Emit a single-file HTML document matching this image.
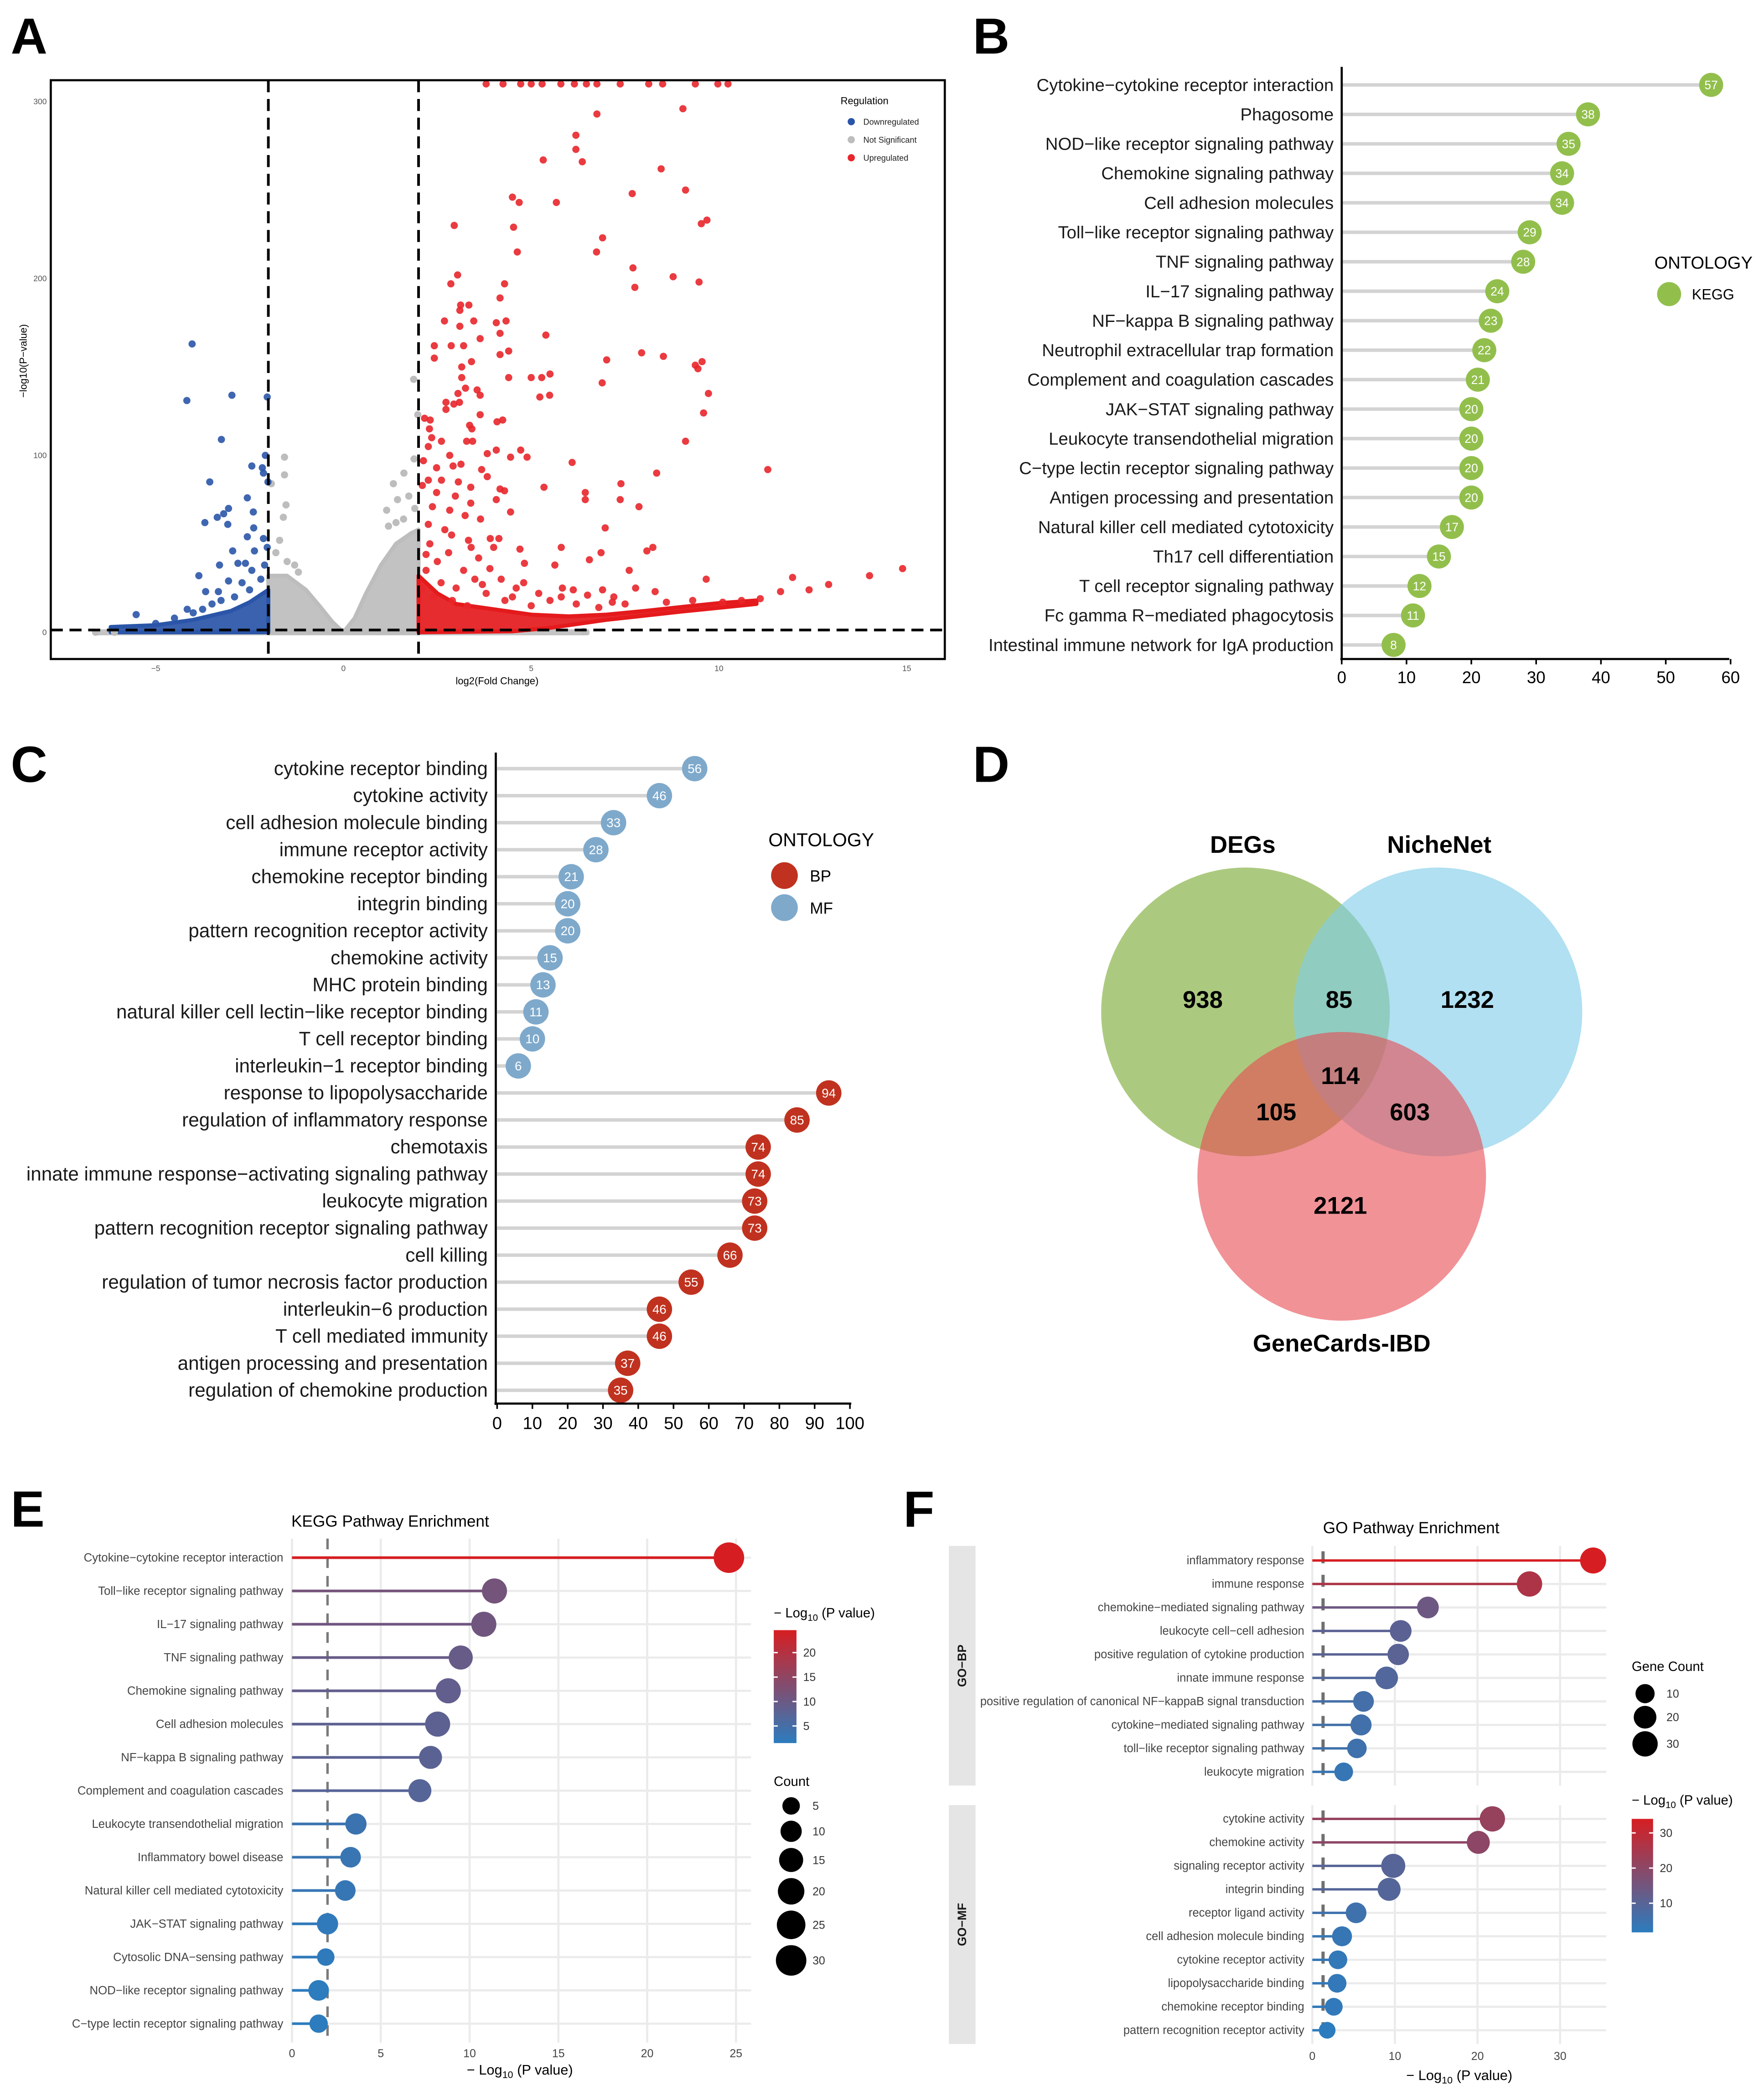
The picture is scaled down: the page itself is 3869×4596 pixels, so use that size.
<!DOCTYPE html>
<html><head><meta charset="utf-8"><title>Enrichment figure</title>
<style>
html,body{margin:0;padding:0;background:#fff;}
svg{display:block;}
text{font-family:"Liberation Sans",Arial,sans-serif;}
</style></head>
<body>
<svg id="fig" xmlns="http://www.w3.org/2000/svg" width="3869" height="4596" viewBox="0 0 1320 1568">
<rect x="0" y="0" width="1320" height="1568" fill="#fff"/>
<g font-weight="bold" font-size="38" fill="#000">
<text x="8" y="40">A</text>
<text x="728" y="40">B</text>
<text x="8" y="585">C</text>
<text x="728" y="585">D</text>
<text x="8" y="1142">E</text>
<text x="676" y="1142">F</text>
</g>
<g id="venn">
<circle cx="932" cy="757" r="108" fill="#7fae3a" fill-opacity="0.65"/>
<circle cx="1076" cy="757" r="108" fill="#7fcde8" fill-opacity="0.62"/>
<circle cx="1004" cy="880" r="108" fill="#e84a52" fill-opacity="0.6"/>
<g font-weight="bold" font-size="18" text-anchor="middle" fill="#000">
<text x="930" y="638">DEGs</text>
<text x="1077" y="638">NicheNet</text>
<text x="1004" y="1011">GeneCards-IBD</text>
<text x="900" y="754">938</text>
<text x="1002" y="754">85</text>
<text x="1098" y="754">1232</text>
<text x="1003" y="811">114</text>
<text x="955" y="838">105</text>
<text x="1055" y="838">603</text>
<text x="1003" y="908">2121</text>
</g>
</g>
</svg>
<script>
// ---------- Panel A data (log2FC, -log10 p) ----------
const upPoints=[[6.75,293],[9.04,296],[6.19,281],[6.19,273],[6.36,266],[5.32,267],[8.46,262],[7.69,248],[9.11,250],[4.5,246],[4.68,243],[5.67,243],[2.95,230],[4.53,229],[9.53,231],[9.68,233],[6.9,223],[4.63,215],[6.74,215],[7.71,206],[8.78,201],[3.04,202],[2.86,197],[4.29,197],[9.47,198],[7.76,195],[4.17,189],[3.12,185],[3.34,185],[3.1,182],[2.69,176],[3.47,176],[3.1,173],[4.07,175],[4.33,176],[3.64,166],[4.17,169],[5.39,168],[2.42,162],[2.87,162],[3.2,162],[4.4,159],[4.17,157],[2.42,155],[3.41,153],[7.94,158],[8.52,156],[7.01,154],[9.55,153],[9.37,151],[9.44,149],[3.15,150],[3.15,144],[4.4,144],[5.0,144],[5.28,144],[5.5,146],[6.89,141],[3.25,138],[3.05,135],[3.56,137],[3.64,134],[5.23,133],[5.49,134],[9.72,135],[2.73,130],[3.09,130],[2.94,129],[2.73,126],[9.59,124],[3.64,123],[2.31,120],[2.16,121],[4.09,119],[4.24,120],[3.36,117],[3.42,115],[2.29,115],[2.35,110],[2.61,108],[3.28,108],[3.44,108],[9.11,108],[2.26,105],[4.07,103],[4.72,103],[4.89,99],[3.83,101],[4.45,99],[2.13,97],[2.83,100],[6.09,96],[2.48,93],[2.92,94],[3.13,95],[3.68,92],[3.83,88],[11.3,92],[8.34,90],[2.26,86],[2.61,86],[3.06,85],[2.1,83],[3.39,82],[5.34,82],[7.39,84],[4.17,81],[4.29,80],[6.44,79],[6.44,75],[7.37,75],[7.87,71],[2.48,79],[2.98,77],[3.39,73],[4.07,75],[4.45,68],[2.37,71],[2.83,69],[3.24,66],[3.65,64],[6.97,59],[2.26,61],[2.88,55],[3.91,53],[4.14,53],[3.33,52],[5.8,48],[8.24,48],[8.08,46],[6.86,45],[4.7,47],[6.55,41],[4.82,39],[5.63,38],[7.61,35],[9.66,30],[11.96,31],[12.92,27],[14.01,32],[14.89,36],[5.83,25],[6.12,24],[6.9,24],[7.78,25],[8.3,23],[11.64,23],[7.16,17],[3.8,310],[4.25,310],[4.72,310],[5.0,310],[5.29,310],[5.79,310],[6.15,310],[6.47,310],[6.75,310],[7.37,310],[8.13,310],[8.5,310],[9.37,310],[9.97,310],[10.24,310],[9.3,18],[10.1,17],[10.6,18],[11.1,19],[12.4,24],[2.3,50],[2.5,40],[2.8,45],[3.2,35],[3.5,30],[2.2,35],[2.6,28],[3.0,25],[3.8,22],[4.2,30],[4.5,20],[5,15],[2.4,20],[2.9,18],[3.3,15],[2.1,25],[4.8,28],[5.2,22],[3.6,42],[4.0,48],[2.7,58],[3.4,48],[3.9,36],[4.6,25],[5.5,18],[6.2,16],[6.8,14],[7.5,16],[8.6,17],[2.2,44],[3.7,27],[4.3,18],[5.8,20],[6.5,21],[7.2,20]];
const downPoints=[[-4.03,163],[-4.17,131],[-2.97,134],[-2.03,133],[-3.25,109],[-2.08,100],[-2.44,94],[-2.16,93],[-2.13,90],[-2.01,85],[-3.56,85],[-2.56,76],[-3.06,70],[-3.19,67],[-3.36,65],[-2.4,68],[-3.69,62],[-3.08,61],[-2.39,59],[-2.56,54],[-2.13,53],[-2.03,48],[-2.37,46],[-2.95,46],[-2.61,39],[-2.81,39],[-3.3,38],[-2.44,35],[-3.85,32],[-3.06,29],[-3.67,23],[-3.33,23],[-4.16,13],[-5.52,10],[-3.75,13],[-3.26,18],[-2.7,28],[-2.9,20],[-4.5,8],[-5.0,5],[-2.2,30],[-2.5,24],[-3.5,16],[-4.0,11],[-2.1,38]];
const nsPoints=[[-1.57,99],[-1.57,89],[-1.92,84],[-1.53,72],[-1.6,65],[1.87,143],[1.98,123],[1.88,98],[1.61,90],[1.33,84],[1.15,69],[1.74,77],[1.44,75],[-6.6,0],[-6.1,0],[6.4,0.5],[-1.8,45],[-1.5,40],[-1.3,38],[1.6,64],[1.4,62],[1.9,70],[1.2,60],[-1.7,52],[-1.2,34]];
const upBand=[[2,0],[2,32],[2.5,22],[3,16],[4,13],[5,10],[6,9],[7,10],[8,12],[9.1,14.5],[10,16.5],[11,18],[11,16],[9,11.7],[7,7],[5.5,2.5],[4.5,0.5]];
const downBand=[[-6.2,0],[-6.2,3],[-5,4],[-4,7],[-3,12],[-2.5,17],[-2,24],[-2,0]];
const nsBandLeft=[[-2,0],[-2,32],[-1.5,32],[-1,24],[-0.6,14],[-0.3,6],[0,0]];
const nsBandRight=[[0,0],[0.3,8],[0.6,22],[1,38],[1.4,50],[1.8,56],[2,58],[2,0]];
const nsBandBase=[[-6.6,-0.6],[6.5,-0.6],[6.5,0.6],[-6.6,0.6]];
const volcanoXTicks=[-5,0,5,10,15];
const volcanoYTicks=[0,100,200,300];

// ---------- Panel B data ----------
const keggTerms=["Cytokine\u2212cytokine receptor interaction","Phagosome","NOD\u2212like receptor signaling pathway","Chemokine signaling pathway","Cell adhesion molecules","Toll\u2212like receptor signaling pathway","TNF signaling pathway","IL\u221217 signaling pathway","NF\u2212kappa B signaling pathway","Neutrophil extracellular trap formation","Complement and coagulation cascades","JAK\u2212STAT signaling pathway","Leukocyte transendothelial migration","C\u2212type lectin receptor signaling pathway","Antigen processing and presentation","Natural killer cell mediated cytotoxicity","Th17 cell differentiation","T cell receptor signaling pathway","Fc gamma R\u2212mediated phagocytosis","Intestinal immune network for IgA production"];
const keggCounts=[57,38,35,34,34,29,28,24,23,22,21,20,20,20,20,17,15,12,11,8];
const keggTicks=[0,10,20,30,40,50,60];

// ---------- Panel C data ----------
const goTerms=["cytokine receptor binding","cytokine activity","cell adhesion molecule binding","immune receptor activity","chemokine receptor binding","integrin binding","pattern recognition receptor activity","chemokine activity","MHC protein binding","natural killer cell lectin\u2212like receptor binding","T cell receptor binding","interleukin\u22121 receptor binding","response to lipopolysaccharide","regulation of inflammatory response","chemotaxis","innate immune response\u2212activating signaling pathway","leukocyte migration","pattern recognition receptor signaling pathway","cell killing","regulation of tumor necrosis factor production","interleukin\u22126 production","T cell mediated immunity","antigen processing and presentation","regulation of chemokine production"];
const goCounts=[56,46,33,28,21,20,20,15,13,11,10,6,94,85,74,74,73,73,66,55,46,46,37,35];
const goOntology=["MF","MF","MF","MF","MF","MF","MF","MF","MF","MF","MF","MF","BP","BP","BP","BP","BP","BP","BP","BP","BP","BP","BP","BP"];
const goTicks=[0,10,20,30,40,50,60,70,80,90,100];

// ---------- Panel E data ----------
const eTerms=["Cytokine\u2212cytokine receptor interaction","Toll\u2212like receptor signaling pathway","IL\u221217 signaling pathway","TNF signaling pathway","Chemokine signaling pathway","Cell adhesion molecules","NF\u2212kappa B signaling pathway","Complement and coagulation cascades","Leukocyte transendothelial migration","Inflammatory bowel disease","Natural killer cell mediated cytotoxicity","JAK\u2212STAT signaling pathway","Cytosolic DNA\u2212sensing pathway","NOD\u2212like receptor signaling pathway","C\u2212type lectin receptor signaling pathway"];
const eLogP=[24.6,11.4,10.8,9.5,8.8,8.2,7.8,7.2,3.6,3.3,3.0,2.0,1.9,1.5,1.5];
const eCounts=[30,17,17,15,17,17,13,13,10,9,9,10,5,9,6];
const eXTicks=[0,5,10,15,20,25];
const eColorTicks=[5,10,15,20];
const eCountLegend=[5,10,15,20,25,30];

// ---------- Panel F data ----------
const fBpTerms=["inflammatory response","immune response","chemokine\u2212mediated signaling pathway","leukocyte cell\u2212cell adhesion","positive regulation of cytokine production","innate immune response","positive regulation of canonical NF\u2212kappaB signal transduction","cytokine\u2212mediated signaling pathway","toll\u2212like receptor signaling pathway","leukocyte migration"];
const fBpLogP=[34,26.3,14,10.7,10.4,9,6.2,5.9,5.4,3.8];
const fBpCounts=[33,30,17,17,16,20,14,15,11,9];
const fMfTerms=["cytokine activity","chemokine activity","signaling receptor activity","integrin binding","receptor ligand activity","cell adhesion molecule binding","cytokine receptor activity","lipopolysaccharide binding","chemokine receptor binding","pattern recognition receptor activity"];
const fMfLogP=[21.8,20.1,9.8,9.3,5.3,3.6,3.1,3.0,2.6,1.8];
const fMfCounts=[30,21,25,21,14,12,9,9,7,5];
const fXTicks=[0,10,20,30];
const fColorTicks=[10,20,30];
const fCountLegend=[10,20,30];

const NS='http://www.w3.org/2000/svg';
const svg=document.getElementById('fig');
function mk(tag,attrs,parent){const e=document.createElementNS(NS,tag);for(const k in attrs)e.setAttribute(k,attrs[k]);(parent||svg).appendChild(e);return e;}
function txt(s,attrs,parent){const e=mk('text',attrs,parent);e.textContent=s;return e;}
function pts(arr,fx,fy){return arr.map(p=>fx(p[0]).toFixed(1)+','+fy(p[1]).toFixed(1)).join(' ');}
function lerpColor(t){t=Math.max(0,Math.min(1,t));const a=[44,124,190],b=[214,30,34];return 'rgb('+a.map((v,i)=>Math.round(v+(b[i]-v)*t)).join(',')+')';}
function logTitle(x,y,size,anchor,parent){const t=mk('text',{x:x,y:y,'font-size':size,'text-anchor':anchor,fill:'#000'},parent);t.appendChild(document.createTextNode('\u2212 Log'));const s=document.createElementNS(NS,'tspan');s.setAttribute('font-size',size*0.7);s.setAttribute('dy',size*0.25);s.textContent='10';t.appendChild(s);const r=document.createElementNS(NS,'tspan');r.setAttribute('dy',-size*0.25);r.textContent=' (P value)';t.appendChild(r);return t;}

// ================= Panel A =================
(function(){
const g=mk('g',{});


const X=v=>257+v*28.1, Y=v=>473-v*1.3233;
const clip=mk('clipPath',{id:'clipA'},g);mk('rect',{x:38,y:60,width:669,height:433},clip);
const pg=mk('g',{'clip-path':'url(#clipA)'},g);
const bands=[[nsBandBase,'#c4c4c4','ns-band-base'],[nsBandLeft,'#bdbdbd','ns-band-left'],[nsBandRight,'#bdbdbd','ns-band-right'],[upBand,'#e41a1c','up-band'],[downBand,'#2a55a8','down-band']];
bands.forEach(b=>{const p=mk('polygon',{points:pts(b[0],X,Y),fill:b[1],'fill-opacity':0.92,stroke:b[1],'stroke-width':3,'stroke-linejoin':'round'},pg);

});
nsPoints.forEach(d=>{const c=mk('circle',{cx:X(d[0]),cy:Y(d[1]),r:2.7,fill:'#bdbdbd'},pg);

});
downPoints.forEach(d=>{const c=mk('circle',{cx:X(d[0]),cy:Y(d[1]),r:2.7,fill:'#2a55a8','fill-opacity':0.9},pg);

});
upPoints.forEach(d=>{const c=mk('circle',{cx:X(d[0]),cy:Y(d[1]),r:2.7,fill:'#e8262b','fill-opacity':0.9},pg);

});
[-2,2].forEach(v=>{const l=mk('line',{x1:X(v),x2:X(v),y1:60,y2:493,stroke:'#000','stroke-width':2,'stroke-dasharray':'9 5'},g);

});
const hl=mk('line',{x1:38,x2:707,y1:Y(1.3),y2:Y(1.3),stroke:'#000','stroke-width':2,'stroke-dasharray':'9 5'},g);


const fr=mk('rect',{x:38,y:60,width:669,height:433,fill:'none',stroke:'#000','stroke-width':1.6},g);


volcanoXTicks.forEach(v=>{const t=txt(String(v).replace('-','\u2212'),{x:X(v),y:502,'font-size':6,'text-anchor':'middle',fill:'#555'},g);

});
volcanoYTicks.forEach(v=>{const t=txt(String(v),{x:35,y:Y(v)+2,'font-size':6,'text-anchor':'end',fill:'#555'},g);

});
const xt=txt('log2(Fold Change)',{x:372,y:512,'font-size':7.5,'text-anchor':'middle',fill:'#000'},g);


const yt=txt('\u2212log10(P\u2212value)',{x:0,y:0,'font-size':7.5,'text-anchor':'middle',fill:'#000',transform:'translate(20,270) rotate(-90)'},g);


const lt=txt('Regulation',{x:629,y:78,'font-size':7.5,fill:'#000'},g);


[['Downregulated','#2a55a8'],['Not Significant','#bdbdbd'],['Upregulated','#e8262b']].forEach((e,i)=>{
const c=mk('circle',{cx:637,cy:91+i*13.5,r:2.7,fill:e[1]},g);


const t=txt(e[0],{x:646,y:93.3+i*13.5,'font-size':6.2,fill:'#222'},g);

});
})();

// ================= Panel B =================
(function(){
const g=mk('g',{});


const X=v=>1004+v*4.85, Y=i=>63.5+i*22.05;
keggCounts.forEach((v,i)=>{
const l=mk('line',{x1:1004,x2:X(v),y1:Y(i),y2:Y(i),stroke:'#d3d3d3','stroke-width':2.6},g);


const c=mk('circle',{cx:X(v),cy:Y(i),r:9,fill:'#92bf4c'},g);


const n=txt(String(v),{x:X(v),y:Y(i)+3.2,'font-size':9,'text-anchor':'middle',fill:'#fff'},g);


const t=txt(keggTerms[i],{x:998,y:Y(i)+4.5,'font-size':13.1,'text-anchor':'end',fill:'#1a1a1a'},g);

});
const ya=mk('line',{x1:1004,x2:1004,y1:50,y2:494,stroke:'#000','stroke-width':1.6},g);


const xa=mk('line',{x1:1003,x2:1294,y1:493,y2:493,stroke:'#000','stroke-width':1.6},g);


keggTicks.forEach(v=>{const tk=mk('line',{x1:X(v),x2:X(v),y1:493,y2:497,stroke:'#000','stroke-width':1.2},g);


const t=txt(String(v),{x:X(v),y:511,'font-size':12.5,'text-anchor':'middle',fill:'#000'},g);

});
const lt=txt('ONTOLOGY',{x:1238,y:201,'font-size':13,fill:'#000'},g);


const lc=mk('circle',{cx:1249,cy:220,r:9,fill:'#92bf4c'},g);


const le=txt('KEGG',{x:1266,y:224,'font-size':11,fill:'#000'},g);


})();

// ================= Panel C =================
(function(){
const g=mk('g',{});


const X=v=>372+v*2.64, Y=i=>575+i*20.22;
const col={MF:'#7ea9cb',BP:'#c0321f'};
goCounts.forEach((v,i)=>{
const l=mk('line',{x1:372,x2:X(v),y1:Y(i),y2:Y(i),stroke:'#d3d3d3','stroke-width':2.6},g);


const c=mk('circle',{cx:X(v),cy:Y(i),r:9.5,fill:col[goOntology[i]]},g);


const n=txt(String(v),{x:X(v),y:Y(i)+3.3,'font-size':9.5,'text-anchor':'middle',fill:'#fff'},g);


const t=txt(goTerms[i],{x:365,y:Y(i)+4.8,'font-size':14.4,'text-anchor':'end',fill:'#1a1a1a'},g);

});
const ya=mk('line',{x1:371,x2:371,y1:563,y2:1051,stroke:'#000','stroke-width':1.6},g);


const xa=mk('line',{x1:370,x2:637,y1:1050,y2:1050,stroke:'#000','stroke-width':1.6},g);


goTicks.forEach(v=>{const tk=mk('line',{x1:X(v),x2:X(v),y1:1050,y2:1054,stroke:'#000','stroke-width':1.2},g);


const t=txt(String(v),{x:X(v),y:1069,'font-size':13,'text-anchor':'middle',fill:'#000'},g);

});
const lt=txt('ONTOLOGY',{x:575,y:633,'font-size':14,fill:'#000'},g);


[['BP',655],['MF',679]].forEach(e=>{
const c=mk('circle',{cx:587,cy:e[1],r:10,fill:col[e[0]]},g);


const t=txt(e[0],{x:606,y:e[1]+4.5,'font-size':12,fill:'#000'},g);

});
})();

// ================= Panel E =================
(function(){
const g=mk('g',{});


const X=v=>218.5+v*13.29, Y=i=>1165.3+i*24.9;
const R=c=>3.2+1.5*Math.sqrt(c);
const minV=1.5,maxV=24.6;
const C=v=>lerpColor((v-minV)/(maxV-minV));
eXTicks.forEach(v=>{const l=mk('line',{x1:X(v),x2:X(v),y1:1151,y2:1528,stroke:'#ebebeb','stroke-width':1.6},g);

});
eTerms.forEach((s,i)=>{const l=mk('line',{x1:218.5,x2:562,y1:Y(i),y2:Y(i),stroke:'#ebebeb','stroke-width':1.6},g);

});
const dl=mk('line',{x1:X(2),x2:X(2),y1:1151,y2:1528,stroke:'#7a7a7a','stroke-width':1.8,'stroke-dasharray':'8 6'},g);


eLogP.forEach((v,i)=>{
const l=mk('line',{x1:218.5,x2:X(v),y1:Y(i),y2:Y(i),stroke:C(v),'stroke-width':2},g);


const c=mk('circle',{cx:X(v),cy:Y(i),r:R(eCounts[i]),fill:C(v)},g);


const t=txt(eTerms[i],{x:212,y:Y(i)+2.9,'font-size':8.8,'text-anchor':'end',fill:'#444'},g);

});
eXTicks.forEach(v=>{const t=txt(String(v),{x:X(v),y:1539,'font-size':8.5,'text-anchor':'middle',fill:'#444'},g);

});
const xt=logTitle(389,1552,10.5,'middle',g);


const tt=txt('KEGG Pathway Enrichment',{x:218,y:1142,'font-size':12,fill:'#000'},g);


const defs=mk('defs',{},g);
const lg=mk('linearGradient',{id:'gradE',x1:0,y1:1,x2:0,y2:0},defs);
[0,0.25,0.5,0.75,1].forEach(t=>mk('stop',{offset:t,'stop-color':lerpColor(t)},lg));
const cbTop=1219.5,cbBot=1304,CY=v=>cbBot-(v-minV)/(maxV-minV)*(cbBot-cbTop);
const cb=mk('rect',{x:579,y:cbTop,width:17,height:cbBot-cbTop,fill:'url(#gradE)'},g);


eColorTicks.forEach(v=>{const tk=mk('line',{x1:579,x2:582,y1:CY(v),y2:CY(v),stroke:'#fff','stroke-width':1},g);


const tk2=mk('line',{x1:593,x2:596,y1:CY(v),y2:CY(v),stroke:'#fff','stroke-width':1},g);


const t=txt(String(v),{x:601,y:CY(v)+3,'font-size':8.5,fill:'#333'},g);

});
const ct=logTitle(579,1210,10,'start',g);


const st=txt('Count',{x:579,y:1336,'font-size':10,fill:'#000'},g);


let sy=1351;
eCountLegend.forEach((v,i)=>{
if(i>0) sy+=R(eCountLegend[i-1])+R(v)+4.5;
const c=mk('circle',{cx:592,cy:sy,r:R(v),fill:'#000'},g);


const t=txt(String(v),{x:608,y:sy+3,'font-size':8.5,fill:'#333'},g);

});
})();

// ================= Panel F =================
(function(){
const g=mk('g',{});


const X=v=>982+v*6.18;
const R=c=>4+1.0*Math.sqrt(c);
const minV=1.7,maxV=34;
const C=v=>lerpColor((v-minV)/(maxV-minV));
const facets=[{name:'GO\u2212BP',key:'bp',terms:fBpTerms,vals:fBpLogP,counts:fBpCounts,top:1156.5,bot:1335.8,row0:1167.4},
{name:'GO\u2212MF',key:'mf',terms:fMfTerms,vals:fMfLogP,counts:fMfCounts,top:1350.4,bot:1529.1,row0:1360.7}];
facets.forEach(f=>{
const Y=i=>f.row0+i*17.57;
const st=mk('rect',{x:710,y:f.top,width:20,height:f.bot-f.top,fill:'#e5e5e5'},g);


const sl=txt(f.name,{x:0,y:0,'font-size':9,'font-weight':'bold','text-anchor':'middle',fill:'#1a1a1a',transform:'translate(723,'+((f.top+f.bot)/2)+') rotate(-90)'},g);


fXTicks.forEach(v=>{const l=mk('line',{x1:X(v),x2:X(v),y1:f.top,y2:f.bot,stroke:'#ebebeb','stroke-width':1.6},g);

});
f.terms.forEach((s,i)=>{const l=mk('line',{x1:982,x2:1202,y1:Y(i),y2:Y(i),stroke:'#ebebeb','stroke-width':1.6},g);

});
const dl=mk('line',{x1:X(1.3),x2:X(1.3),y1:f.top+4,y2:f.bot,stroke:'#707070','stroke-width':2.4,'stroke-dasharray':'9 8.6'},g);


f.vals.forEach((v,i)=>{
const l=mk('line',{x1:982,x2:X(v),y1:Y(i),y2:Y(i),stroke:C(v),'stroke-width':1.8},g);


const c=mk('circle',{cx:X(v),cy:Y(i),r:R(f.counts[i]),fill:C(v)},g);


const t=txt(f.terms[i],{x:976,y:Y(i)+2.8,'font-size':8.7,'text-anchor':'end',fill:'#444'},g);

});
});
fXTicks.forEach(v=>{const t=txt(String(v),{x:X(v),y:1541,'font-size':8.5,'text-anchor':'middle',fill:'#444'},g);

});
const xt=logTitle(1092,1556,10.5,'middle',g);


const tt=txt('GO Pathway Enrichment',{x:1056,y:1147,'font-size':12,'text-anchor':'middle',fill:'#000'},g);


const gt=txt('Gene Count',{x:1221,y:1250,'font-size':10,fill:'#000'},g);


let sy=1267;
fCountLegend.forEach((v,i)=>{
if(i>0) sy+=R(fCountLegend[i-1])+R(v)+2;
const c=mk('circle',{cx:1231,cy:sy,r:R(v),fill:'#000'},g);


const t=txt(String(v),{x:1247,y:sy+3,'font-size':8.5,fill:'#333'},g);

});
const defs=mk('defs',{},g);
const lg=mk('linearGradient',{id:'gradF',x1:0,y1:1,x2:0,y2:0},defs);
[0,0.25,0.5,0.75,1].forEach(t=>mk('stop',{offset:t,'stop-color':lerpColor(t)},lg));
const cbTop=1360.7,cbBot=1445.6,CY=v=>cbBot-(v-minV)/(maxV-minV)*(cbBot-cbTop);
const cb=mk('rect',{x:1221,y:cbTop,width:16,height:cbBot-cbTop,fill:'url(#gradF)'},g);


fColorTicks.forEach(v=>{const tk=mk('line',{x1:1221,x2:1224,y1:CY(v),y2:CY(v),stroke:'#fff','stroke-width':1},g);


const tk2=mk('line',{x1:1234,x2:1237,y1:CY(v),y2:CY(v),stroke:'#fff','stroke-width':1},g);


const t=txt(String(v),{x:1242,y:CY(v)+3,'font-size':8.5,fill:'#333'},g);

});
const ct=logTitle(1221,1350,10,'start',g);


})();
</script>
</body></html>
